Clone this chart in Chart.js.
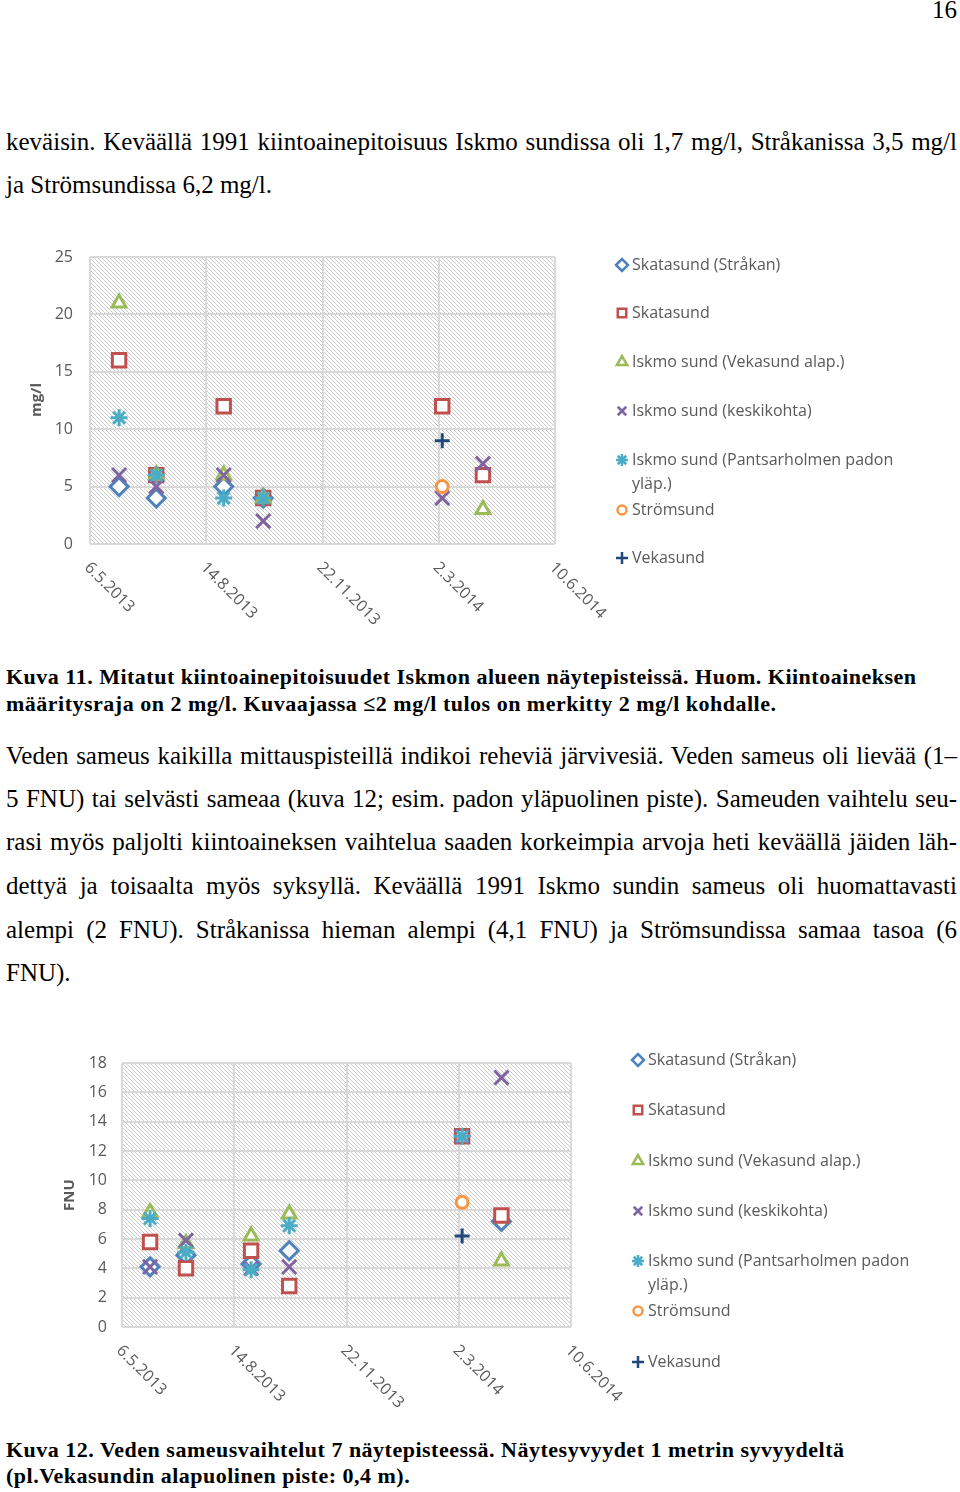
<!DOCTYPE html>
<html>
<head>
<meta charset="utf-8">
<script src="https://cdn.jsdelivr.net/npm/chart.js@4.4.1/dist/chart.umd.min.js"></script>
<style>
  body { margin: 0; background: #fff; width: 960px; height: 1492px; position: relative; overflow: hidden;
         font-family: "Liberation Serif", "Times New Roman", serif; color: #000; }
  .l { position: absolute; left: 6px; font-size: 25px; line-height: 30px; height: 30px; white-space: nowrap; }
  .j { width: 951px; white-space: normal; text-align: justify; text-align-last: justify; }
  .c { font-weight: bold; font-size: 22px; letter-spacing: 0.5px; }
  canvas { position: absolute; left: 0; }
</style>
</head>
<body>
<div class="l" style="top:-5px;left:auto;right:3px;">16</div>

<div class="l j" style="top:127px">keväisin. Keväällä 1991 kiintoainepitoisuus Iskmo sundissa oli 1,7 mg/l, Stråkanissa 3,5 mg/l</div>
<div class="l" style="top:170px">ja Strömsundissa 6,2 mg/l.</div>

<canvas id="chart1" width="960" height="400" style="top:240px"></canvas>

<div class="l c" style="top:662px">Kuva 11. Mitatut kiintoainepitoisuudet Iskmon alueen näytepisteissä. Huom. Kiintoaineksen</div>
<div class="l c" style="top:689px">määritysraja on 2 mg/l. Kuvaajassa ≤2 mg/l tulos on merkitty 2 mg/l kohdalle.</div>

<div class="l j" style="top:741px">Veden sameus kaikilla mittauspisteillä indikoi reheviä järvivesiä. Veden sameus oli lievää (1–</div>
<div class="l j" style="top:784px">5 FNU) tai selvästi sameaa (kuva 12; esim. padon yläpuolinen piste). Sameuden vaihtelu seu-</div>
<div class="l j" style="top:827px">rasi myös paljolti kiintoaineksen vaihtelua saaden korkeimpia arvoja heti keväällä jäiden läh-</div>
<div class="l j" style="top:871px">dettyä ja toisaalta myös syksyllä. Keväällä 1991 Iskmo sundin sameus oli huomattavasti</div>
<div class="l j" style="top:915px">alempi (2 FNU). Stråkanissa hieman alempi (4,1 FNU) ja Strömsundissa samaa tasoa (6</div>
<div class="l" style="top:958px">FNU).</div>

<canvas id="chart2" width="960" height="380" style="top:1045px"></canvas>

<div class="l c" style="top:1435px">Kuva 12. Veden sameusvaihtelut 7 näytepisteessä. Näytesyvyydet 1 metrin syvyydeltä</div>
<div class="l c" style="top:1461px">(pl.Vekasundin alapuolinen piste: 0,4 m).</div>

<script>
// sampling dates as days after 6.5.2013 (31.5., 2.7., 29.8., 2.10.2013, 5.3., 9.4.2014)
var sampleDays = [25, 57, 115, 149, 303, 338];
var axisDays = [0, 100, 200, 300, 400];
var axisLabels = ["6.5.2013", "14.8.2013", "22.11.2013", "2.3.2014", "10.6.2014"];

var seriesNames = [
  "Skatasund (Stråkan)",
  "Skatasund",
  "Iskmo sund (Vekasund alap.)",
  "Iskmo sund (keskikohta)",
  ["Iskmo sund (Pantsarholmen padon", "yläp.)"],
  "Strömsund",
  "Vekasund"
];

// kiintoaine mg/l (Kuva 11)
var solids_strakan   = [5, 4, 5, 4, null, null];
var solids_skatasund = [16, 6, 12, 4, 12, 6];
var solids_alap      = [21, 6, 6, 4, null, 3];
var solids_keski     = [6, 5, 6, 2, 4, 7];
var solids_pantsar   = [11, 6, 4, 4, null, null];
var solids_stromsund = [null, null, null, null, 5, null];
var solids_vekasund  = [null, null, null, null, 9, null];

// sameus FNU (Kuva 12)
var turb_strakan   = [4.1, 4.9, 4.3, 5.2, null, 7.2];
var turb_skatasund = [5.8, 4.0, 5.2, 2.8, 13, 7.6];
var turb_alap      = [7.8, 5.7, 6.2, 7.7, null, 4.5];
var turb_keski     = [4.1, 5.9, 4.0, 4.1, 13, 17];
var turb_pantsar   = [7.4, 5.1, 3.9, 6.9, 13, null];
var turb_stromsund = [null, null, null, null, 8.5, null];
var turb_vekasund  = [null, null, null, null, 6.2, null];

var markers = [
  { color: "#4F81BD", style: "rectRot", r: 9, fill: "#fff" },
  { color: "#C0504D", style: "rect", r: 9.5, fill: "#fff" },
  { color: "#9BBB59", style: "triangle", r: 8, fill: "#fff" },
  { color: "#8064A2", style: "crossRot", r: 10, fill: "#fff" },
  { color: "#4BACC6", style: "star", r: 8.5, fill: "#fff" },
  { color: "#F79646", style: "circle", r: 6, fill: "#fff" },
  { color: "#1F497D", style: "cross", r: 7.5, fill: "#fff" }
];

var fontFamily = "'Open Sans', 'Noto Sans', sans-serif";
var axisFont = { family: fontFamily, size: 16 };
var grey = "#595959";

function toPoints(vals) {
  var pts = [];
  for (var i = 0; i < sampleDays.length; i++) {
    if (vals[i] !== null) pts.push({ x: sampleDays[i], y: vals[i] });
  }
  return pts;
}

function makeDatasets(list) {
  return list.map(function (vals, i) {
    var m = markers[i];
    return {
      label: Array.isArray(seriesNames[i]) ? seriesNames[i].join(" ") : seriesNames[i],
      data: toPoints(vals),
      pointStyle: m.style,
      pointRadius: m.r,
      pointHoverRadius: m.r,
      pointBorderWidth: 3,
      borderColor: m.color,
      pointBorderColor: m.color,
      pointBackgroundColor: m.fill,
      showLine: false,
      order: list.length - i   // later series on top, like Excel
    };
  });
}

var hatchTile = (function () {
  var c = document.createElement("canvas");
  c.width = 4; c.height = 4;
  var g = c.getContext("2d");
  g.fillStyle = "#fff";
  g.fillRect(0, 0, 4, 4);
  g.fillStyle = "#cacaca";
  for (var i = 0; i < 4; i++) g.fillRect(i, i, 1, 1);
  return c;
})();

var pagePlugin = {
  id: "pageChart",
  beforeDraw: function (chart) {
    var a = chart.chartArea, ctx = chart.ctx;
    ctx.save();
    ctx.fillStyle = ctx.createPattern(hatchTile, "repeat");
    ctx.fillRect(a.left, a.top, a.right - a.left, a.bottom - a.top);
    ctx.restore();
  },
  afterDraw: function (chart, args, opts) {
    var ctx = chart.ctx, xs = chart.scales.x, a = chart.chartArea;
    ctx.save();
    // rotated date labels
    ctx.fillStyle = grey;
    ctx.font = "16px " + fontFamily;
    ctx.textAlign = "left";
    ctx.textBaseline = "middle";
    axisDays.forEach(function (d, i) {
      ctx.save();
      ctx.translate(xs.getPixelForValue(d) - 3, a.bottom + 21);
      ctx.rotate(Math.PI / 4);
      ctx.fillText(axisLabels[i], 0, 0);
      ctx.restore();
    });
    // axis title
    ctx.save();
    ctx.font = "bold 15px " + fontFamily;
    ctx.textAlign = "center";
    ctx.translate(opts.titleX, opts.titleY);
    ctx.rotate(-Math.PI / 2);
    ctx.fillText(opts.title, 0, 0);
    ctx.restore();
    // legend
    ctx.font = "16px " + fontFamily;
    chart.data.datasets.forEach(function (ds, i) {
      var m = markers[i], y = opts.legendY[i];
      ctx.save();
      ctx.strokeStyle = m.color;
      ctx.fillStyle = m.fill;
      ctx.lineWidth = 2.5;
      Chart.helpers.drawPoint(ctx, { pointStyle: m.style, radius: m.style === "circle" ? 4.5 : 6, rotation: 0, borderWidth: 2.5 }, opts.legendX, y);
      ctx.restore();
      ctx.fillStyle = grey;
      var lines = Array.isArray(seriesNames[i]) ? seriesNames[i] : [seriesNames[i]];
      lines.forEach(function (t, k) {
        ctx.fillText(t, opts.legendX + 10, y + k * 24);
      });
    });
    ctx.restore();
  }
};

function buildChart(id, lists, yMax, yStep, yWidth, xHeight, pad, plug) {
  new Chart(document.getElementById(id).getContext("2d"), {
    type: "scatter",
    data: { datasets: makeDatasets(lists) },
    plugins: [pagePlugin],
    options: {
      responsive: false,
      animation: false,
      layout: { padding: pad },
      plugins: { legend: { display: false }, tooltip: { enabled: false }, pageChart: plug },
      scales: {
        x: {
          type: "linear", min: 0, max: 400,
          ticks: { stepSize: 100, display: false },
          grid: { color: "#d9d9d9", lineWidth: 2, drawTicks: false },
          border: { display: false },
          afterFit: function (s) { s.height = xHeight; s.paddingLeft = 0; s.paddingRight = 0; }
        },
        y: {
          min: 0, max: yMax,
          ticks: { stepSize: yStep, color: grey, font: axisFont, padding: yWidth - plug.labelRight },
          grid: { color: "#d9d9d9", lineWidth: 2, drawTicks: false },
          border: { display: false },
          afterFit: function (s) { s.width = yWidth; s.paddingTop = 0; s.paddingBottom = 0; }
        }
      }
    }
  });
}

buildChart("chart1",
  [solids_strakan, solids_skatasund, solids_alap, solids_keski, solids_pantsar, solids_stromsund, solids_vekasund],
  25, 5, 90, 96, { left: 0, top: 17, right: 405, bottom: 0 },
  { title: "mg/l", titleX: 37, titleY: 160, labelRight: 73, legendX: 622,
    legendY: [25, 73, 122, 171, 220, 270, 318] });

buildChart("chart2",
  [turb_strakan, turb_skatasund, turb_alap, turb_keski, turb_pantsar, turb_stromsund, turb_vekasund],
  18, 2, 122, 98, { left: 0, top: 18, right: 389, bottom: 0 },
  { title: "FNU", titleX: 70, titleY: 150, labelRight: 107, legendX: 638,
    legendY: [15, 65, 116, 166, 216, 266, 317] });
</script>
</body>
</html>
